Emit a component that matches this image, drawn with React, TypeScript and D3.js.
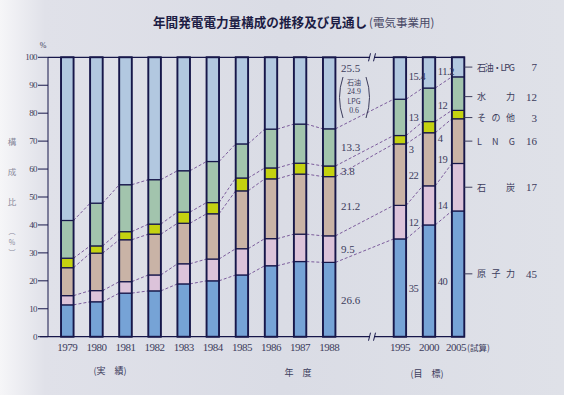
import * as d3 from "d3";

// fiscal years: 1979-1988 actual, 1995-2005 targets
const years = ["1979", "1980", "1981", "1982", "1983", "1984", "1985", "1986", "1987", "1988", "1995", "2000", "2005"];

// shares in % (bottom to top)
const nuclear = [11.4, 12.5, 15.6, 16.4, 18.9, 20.0, 22.1, 25.4, 26.9, 26.6, 35, 40, 45];
const coal = [3.3, 4.0, 4.1, 5.7, 7.2, 7.8, 9.4, 9.7, 9.8, 9.5, 12, 14, 17];
const lng = [10.0, 13.4, 15.0, 14.6, 14.5, 16.2, 20.7, 21.4, 21.5, 21.2, 22, 19, 16];
const other = [3.4, 2.6, 2.9, 3.6, 4.0, 4.0, 4.6, 3.9, 3.9, 3.8, 3, 4, 3];
const hydro = [13.5, 15.3, 16.8, 15.9, 14.8, 14.7, 12.2, 13.9, 14.0, 13.3, 13, 12, 12];
const oil = [58.4, 52.2, 45.6, 43.8, 40.6, 37.3, 31.0, 25.7, 23.9, 25.5, 15.4, 11.2, 7];

const keys = ["nuclear", "coal", "lng", "other", "hydro", "oil"];
const legendNames = ["原子力", "石　炭", "LNG", "その他", "水　力", "石油・LPG"];
const colors = ["#76a3d6", "#dcc3da", "#c9b3a6", "#c4d210", "#a2c4ad", "#b2c8e0"];
const oilSplit = [
  { name: "石油", value: 24.9 },
  { name: "LPG", value: 0.6 },
];
const yTicks = [0, 10, 20, 30, 40, 50, 60, 70, 80, 90, 100];

const W = 564;
const H = 395;
const NAVY = "#17174a";
const INK = "#3c3c5c";
const SERIF = "'Liberation Serif', 'DejaVu Serif', serif";
const JP = "'Noto Sans CJK JP', sans-serif";

export default function App() {
  const x = d3.scaleLinear().domain([0, 13.43]).range([67.3, 458.1]);
  const y = d3.scaleLinear().domain([0, 100]).range([336.7, 57.3]);
  const slot = (i: number) => i + (i >= 10 ? 1.43 : 0);
  const cx = (i: number) => x(slot(i));
  const bw = 12.5;

  const rows = years.map((yr, i) => ({
    year: yr,
    nuclear: nuclear[i],
    coal: coal[i],
    lng: lng[i],
    other: other[i],
    hydro: hydro[i],
    oil: oil[i],
  }));
  const stacked = d3.stack<any>().keys(keys)(rows);
  const top = (v: number) => y(Math.min(v, 100));

  const axisL = 48;
  const axisR = cx(12) + bw / 2;
  const breakX = 372;
  const last = years.length - 1;
  const i88 = 9;

  return (
    <svg width={W} height={H} style={{ position: "absolute", left: 0, top: 0 }}>
      <defs>
        <linearGradient id="bg" x1="0" x2="1" y1="0" y2="0">
          <stop offset="0" stopColor="#f6f6f8" />
          <stop offset="0.08" stopColor="#e0e1e9" />
          <stop offset="0.5" stopColor="#dadce5" />
          <stop offset="1" stopColor="#dfe1e8" />
        </linearGradient>
      </defs>
      <rect width={W} height={H} fill="url(#bg)" />

      {/* title */}
      <text x={153} y={27} fontFamily={JP} fontSize={12.6} fontWeight="bold" fill="#1c1c44">
        年間発電電力量構成の推移及び見通し
        <tspan fontWeight="normal" fontSize={11.5} fill="#4a4a66" dx={2}>(電気事業用)</tspan>
      </text>

      {/* y axis */}
      <text x={43} y={48} fontFamily={SERIF} fontSize={8} fill={INK} textAnchor="middle">%</text>
      <line x1={axisL} x2={axisL} y1={y(100)} y2={y(0)} stroke={NAVY} strokeWidth={1} />
      {yTicks.map((t) => (
        <g key={t}>
          <line x1={axisL - 10} x2={axisL} y1={y(t)} y2={y(t)} stroke={NAVY} strokeWidth={1} />
          <text x={37} y={y(t) + 3} fontFamily={SERIF} fontSize={9} fill={INK} textAnchor="end" letterSpacing={-0.6}>
            {t}
          </text>
        </g>
      ))}
      {["構", "成", "比"].map((c, k) => (
        <text key={c} x={12} y={145 + k * 30} fontFamily={JP} fontSize={8.5} fill="#8a8a9c" textAnchor="middle">
          {c}
        </text>
      ))}
      {["︵", "%", "︶"].map((c, k) => (
        <text key={k} x={12} y={234 + k * 10.5} fontFamily={JP} fontSize={7} fill="#8a8a9c" textAnchor="middle">
          {c}
        </text>
      ))}

      {/* frame lines */}
      <line x1={axisL} x2={axisR} y1={y(100)} y2={y(100)} stroke={NAVY} strokeWidth={1.2} />
      <line x1={axisL - 8} x2={axisR} y1={y(0)} y2={y(0)} stroke={NAVY} strokeWidth={1.2} />
      {[y(100), y(0)].map((yy, k) => (
        <g key={k}>
          <rect x={breakX - 2} y={yy - 2} width={4} height={4} fill="#dadce5" />
          <line x1={breakX - 3.5} x2={breakX - 1.5} y1={yy + 4} y2={yy - 4} stroke={NAVY} strokeWidth={1} />
          <line x1={breakX + 1.5} x2={breakX + 3.5} y1={yy + 4} y2={yy - 4} stroke={NAVY} strokeWidth={1} />
        </g>
      ))}

      {/* dashed connectors between bars */}
      {stacked.slice(0, 5).map((s, k) =>
        s.slice(0, -1).map((d, i) => (
          <line
            key={`${k}-${i}`}
            x1={cx(i) + bw / 2}
            x2={cx(i + 1) - bw / 2}
            y1={top(d[1])}
            y2={top(s[i + 1][1])}
            stroke="#7c5c9c"
            strokeWidth={1}
            strokeDasharray="3,2"
          />
        ))
      )}

      {/* stacked bars */}
      {stacked.map((s, k) =>
        s.map((d, i) => (
          <rect
            key={`${k}-${i}`}
            x={cx(i) - bw / 2}
            y={top(d[1])}
            width={bw}
            height={top(d[0]) - top(d[1])}
            fill={colors[k]}
            stroke={NAVY}
            strokeWidth={1.2}
          />
        ))
      )}
      {years.map((yr, i) => (
        <rect key={yr} x={cx(i) - bw / 2} y={y(100)} width={bw} height={y(0) - y(100)} fill="none" stroke={NAVY} strokeWidth={1.8} />
      ))}

      {/* x labels */}
      {years.map((yr, i) => (
        <text
          key={yr}
          x={cx(i) + (i === last ? -2 : 0)}
          y={351}
          fontFamily={SERIF}
          fontSize={11}
          fill={INK}
          textAnchor="middle"
          letterSpacing={-0.5}
        >
          {yr}
        </text>
      ))}
      <text x={cx(last) + 9} y={351} fontFamily={JP} fontSize={8.5} fill={INK}>(試算)</text>
      <text x={110} y={374} fontFamily={JP} fontSize={9} fill={INK} textAnchor="middle">(実　績)</text>
      <text x={298} y={376} fontFamily={JP} fontSize={9} fill={INK} textAnchor="middle">年　度</text>
      <text x={427} y={377} fontFamily={JP} fontSize={9} fill={INK} textAnchor="middle">(目　標)</text>

      {/* 1988 values */}
      {stacked.map((s, k) => {
        const d = s[i88];
        const isOil = k === keys.length - 1;
        const yy = isOil ? y(100) + 11 : (top(d[0]) + top(d[1])) / 2;
        return (
          <text key={k} x={341} y={yy + 4} fontFamily={SERIF} fontSize={11} fill={INK}>
            {String(rows[i88][keys[k]])}
          </text>
        );
      })}
      <g fontFamily={SERIF} fontSize={7.8} fill={INK} textAnchor="middle">
        {oilSplit.map((p, k) => (
          <g key={p.name}>
            <text x={354} y={84.5 + k * 19} fontFamily={JP} fontSize={7}>{p.name}</text>
            <text x={354} y={94 + k * 19}>{p.value}</text>
          </g>
        ))}
        <path d="M343,77 Q336,97.5 343,118" fill="none" stroke={INK} strokeWidth={1} />
        <path d="M366,77 Q373,97.5 366,118" fill="none" stroke={INK} strokeWidth={1} />
      </g>

      {/* 1995 and 2000 values */}
      {[10, 11].map((i) =>
        stacked.map((s, k) => {
          const d = s[i];
          const isOther = keys[k] === "other";
          const yy = isOther ? top(d[0]) + 5 : (top(d[0]) + top(Math.min(d[1], 100))) / 2 - (k === 5 ? 2 : 0);
          return (
            <text key={`${i}-${k}`} x={cx(i) + bw / 2 + 2.5} y={yy + 4} fontFamily={SERIF} fontSize={10.5} fill={INK} letterSpacing={-0.4}>
              {String(rows[i][keys[k]])}
            </text>
          );
        })
      )}

      {/* 2005 legend on the right */}
      {stacked.map((s, k) => {
        const d = s[last];
        const yy = (top(d[0]) + top(d[1])) / 2 + (keys[k] === "other" ? 3 : keys[k] === "hydro" ? 3 : 0);
        return (
          <g key={k}>
            <line x1={axisR} x2={axisR + 8} y1={yy} y2={yy} stroke={INK} strokeWidth={1} />
            <text x={477} y={yy + 3.5} fontFamily={JP} fontSize={9} fill={INK} textLength={38} lengthAdjust="spacing">
              {legendNames[k]}
            </text>
            <text x={537} y={yy + 4} fontFamily={SERIF} fontSize={11} fill={INK} textAnchor="end">
              {String(rows[last][keys[k]])}
            </text>
          </g>
        );
      })}
    </svg>
  );
}
